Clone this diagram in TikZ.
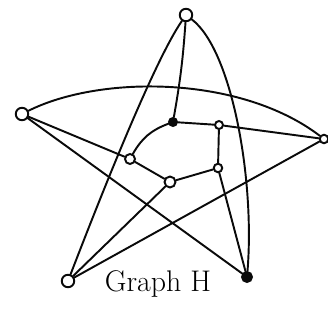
\documentclass[tikz,border=0pt]{standalone}
\usepackage{tikz}
\usetikzlibrary{calc}
\definecolor{ink}{RGB}{10, 10, 10}

\tikzset{
  vtx/.style={circle, draw=ink, line width=1.1pt, fill=white, inner sep=0pt, minimum size=0.2cm},
  bigvtx/.style={vtx, minimum size=0.25cm},
  dotvtx/.style={vtx, fill=ink},
  edge/.style={draw=ink, line width=1.1pt, line cap=round}
}

\begin{document}
\begin{tikzpicture}[x=0.02cm, y=-0.02cm, font=\large]
                \useasboundingbox (0,0) rectangle (328,320);
                
                % outer star
                \node[bigvtx] (top) at (186,15) {};
                \node[bigvtx] (left) at (22,114) {};
                \node[vtx, minimum size=0.17cm] (right) at (324,139) {};
                \node[bigvtx] (botleft) at (68,281) {};
                \node[dotvtx, minimum size=0.2cm] (botright) at (247,277) {};
                
                % inner cycle
                \node[dotvtx, minimum size=0.16cm] (inA) at (173,122) {};
                \node[vtx, minimum size=0.16cm] (inB) at (219,125) {};
                \node[vtx] (inC) at (130,159) {};
                \node[vtx, minimum size=0.17cm] (inD) at (218,168) {};
                \node[vtx, minimum size=0.22cm] (inE) at (170,182) {};
                
                \draw[edge] (top) .. controls (155,60) and (105,185) .. (botleft);
                \draw[edge] (top) .. controls (232,50) and (255,180) .. (botright);
                \draw[edge] (left) .. controls (100,75) and (240,75) .. (right);
                \draw[edge] (left) -- (botright);
                \draw[edge] (right) -- (botleft);
                
                \draw[edge] (top) to[bend left=3] (inA);
                \draw[edge] (left) -- (inC);
                \draw[edge] (right) -- (inB);
                \draw[edge] (botleft) -- (inE);
                \draw[edge] (botright) -- (inD);
                
                \draw[edge] (inA) to[bend left=-20] (inC);
                \draw[edge] (inC) -- (inE);
                \draw[edge] (inE) -- (inD);
                \draw[edge] (inD) -- (inB);
                \draw[edge] (inB) -- (inA);
                
                \node[font=\fontsize{17}{19}\selectfont] (label) at (158,284) {Graph H};
            \end{tikzpicture}
\end{document}
